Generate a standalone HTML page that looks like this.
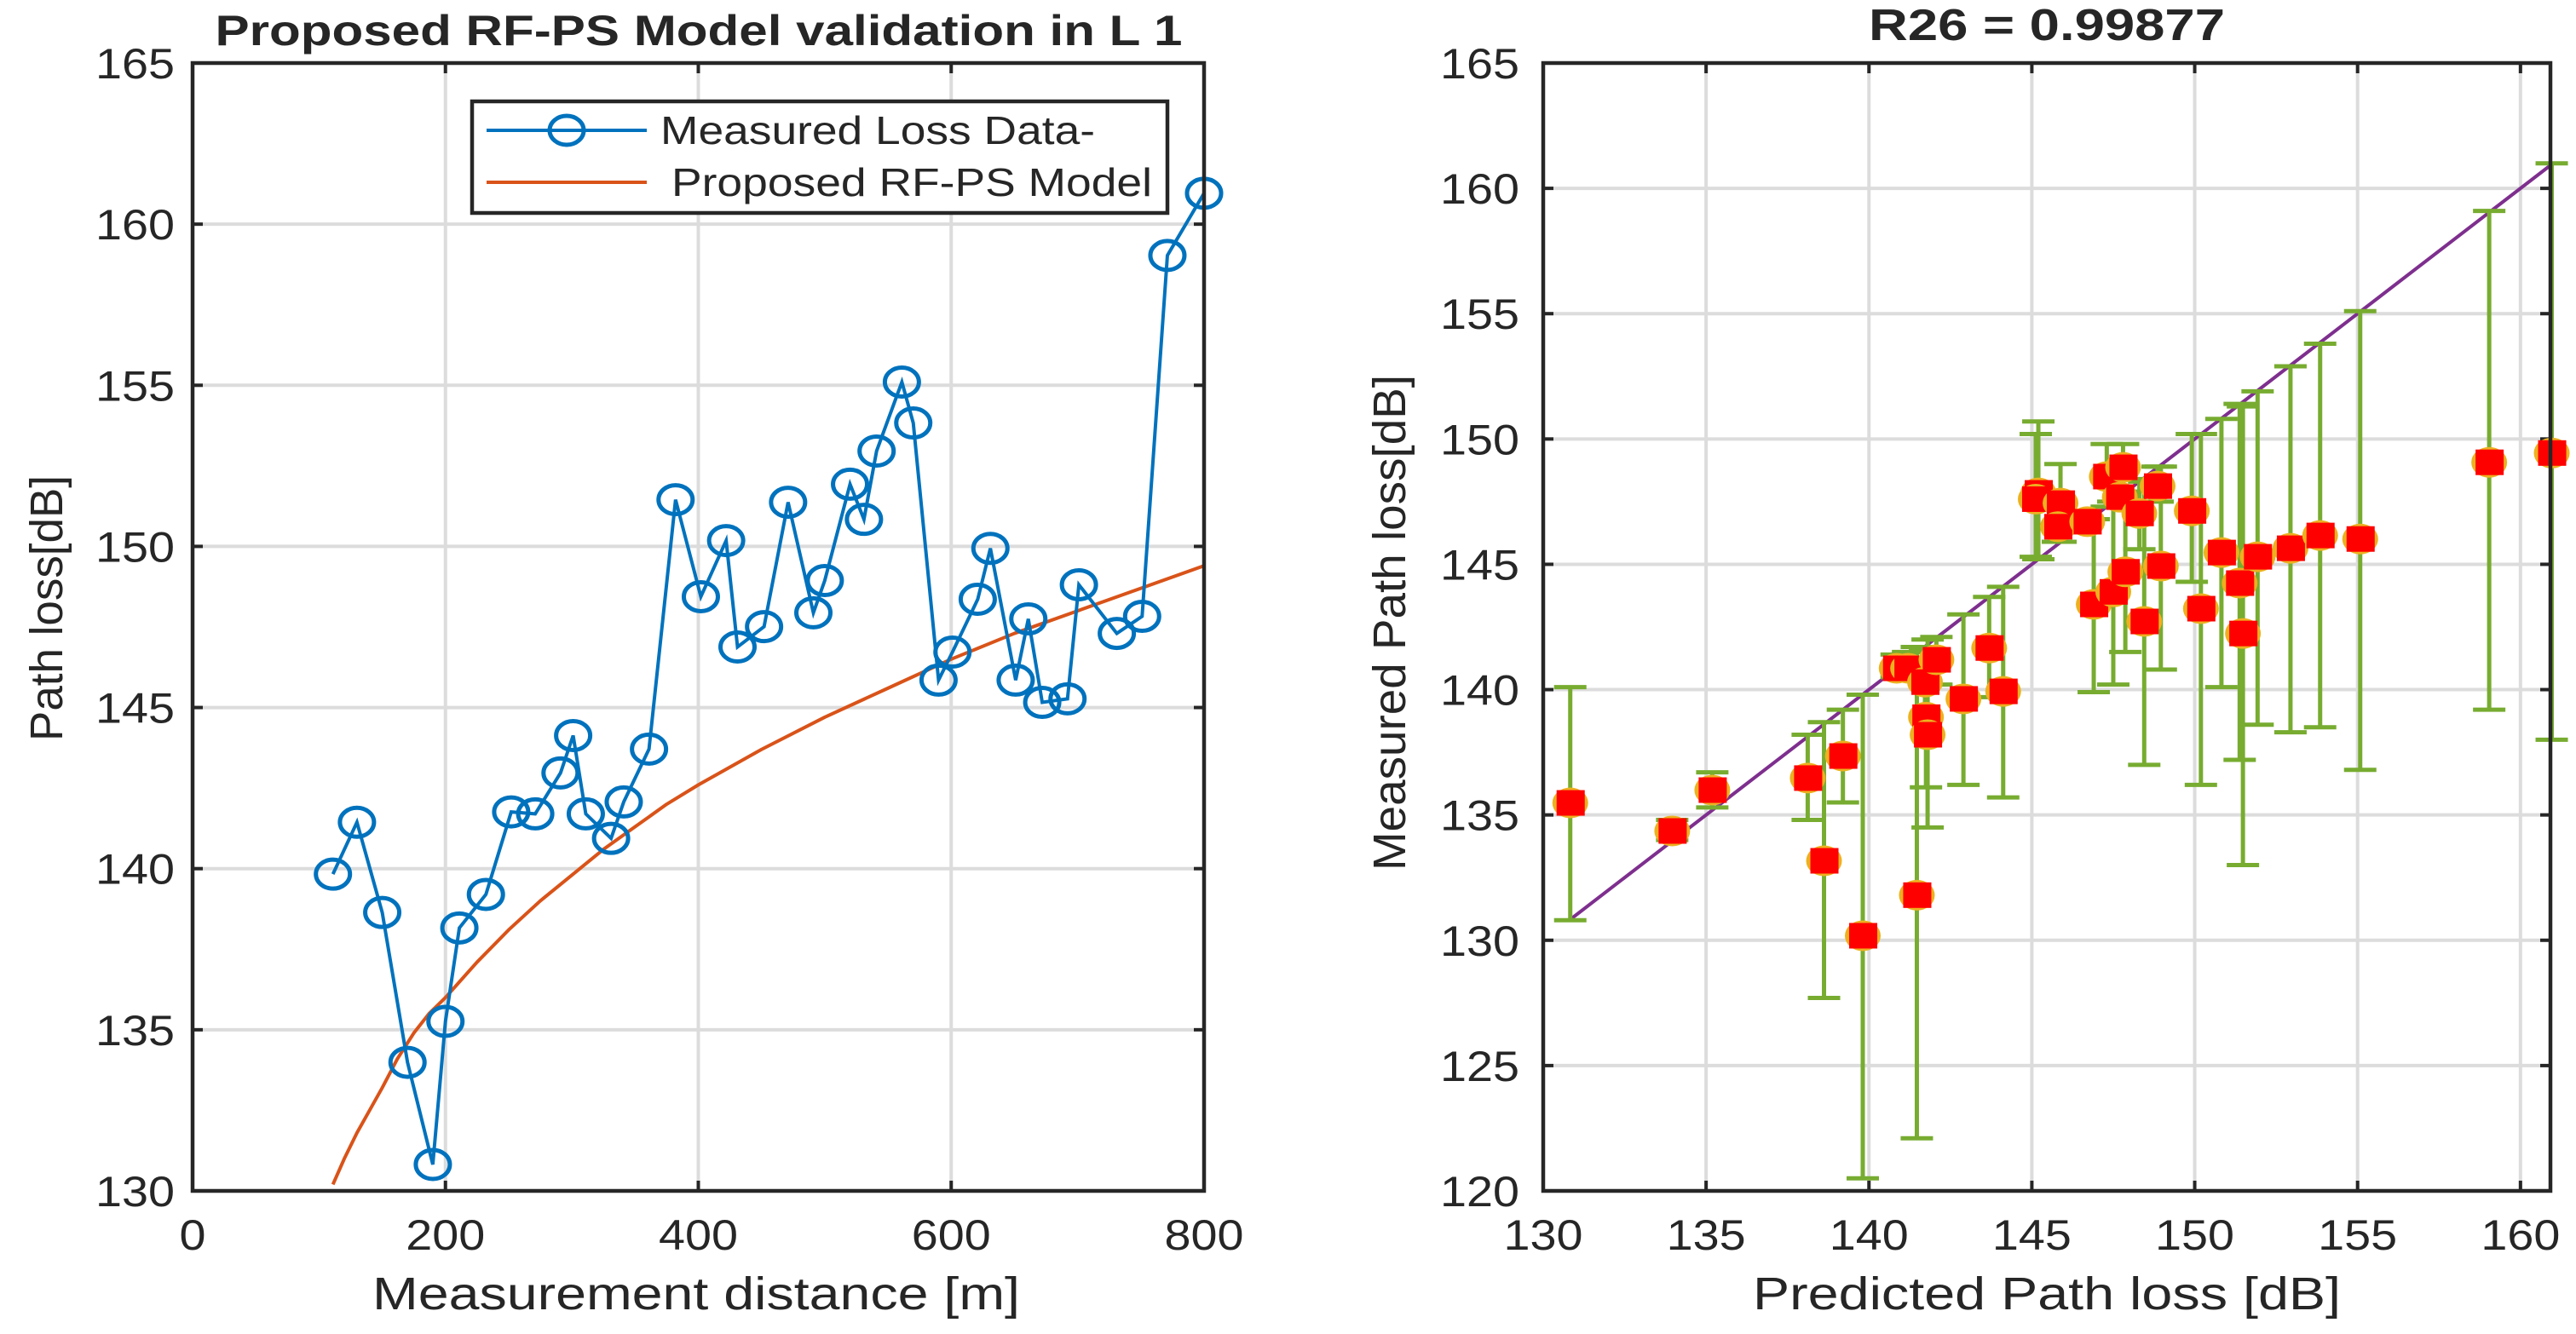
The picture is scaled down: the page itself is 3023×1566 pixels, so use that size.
<!DOCTYPE html>
<html><head><meta charset="utf-8"><style>
html,body{margin:0;padding:0;background:#fff}
svg{display:block}
text{font-family:"Liberation Sans",Arial,sans-serif;fill:#262626}
</style></head><body>
<svg id="fig" width="3023" height="1566" viewBox="0 0 3023 1566" xmlns="http://www.w3.org/2000/svg">
<g id="left"></g>
<g id="right"></g>
</svg>
<script>
// ---- Left chart data ----
const measDist = [111,130,150,170,190,200,211,232,252,271,291,301,311,331,341,361,382,402,422,431,452,471,491,500,520,531,541,561,570,590,601,621,631,651,661,672,692,701,731,751,771,800];
const measLoss = [139.83,141.44,138.64,133.99,130.82,135.26,138.16,139.2,141.76,141.7,142.97,144.13,141.7,140.94,142.07,143.71,151.45,148.44,150.18,146.88,147.51,151.37,147.94,148.94,151.93,150.84,152.96,155.1,153.83,145.85,146.72,148.36,149.94,145.85,147.75,145.16,145.27,148.81,147.3,147.83,159.03,160.96];
const modelDist = [111,120,130,140,150,162,175,187,200,225,250,275,300,325,350,375,400,450,500,550,600,650,700,750,800];
const modelLoss = [130.2,131.0,131.8,132.5,133.2,134.1,134.9,135.5,136.0,137.1,138.1,139.0,139.8,140.6,141.3,142.0,142.6,143.7,144.7,145.6,146.5,147.3,148.0,148.7,149.4];
const leftXTicks = [0,200,400,600,800];
const leftYTicks = [130,135,140,145,150,155,160,165];
// ---- Right chart data ----
const predLoss = [130.83,133.96,135.19,138.12,138.62,139.2,139.81,140.85,141.2,141.47,141.72,141.75,141.8,142.07,142.9,143.69,144.12,145.2,145.12,145.88,145.8,146.7,146.9,147.3,147.5,147.8,147.7,147.87,148.3,148.45,148.86,148.96,149.91,150.19,150.82,151.38,151.48,151.93,152.94,153.85,155.08,159.04,160.96];
const measured = [135.48,134.36,135.99,136.47,133.17,137.35,130.18,140.85,140.85,131.8,140.3,138.9,138.2,141.19,139.63,141.66,139.93,147.85,147.6,147.44,146.5,146.7,143.4,148.5,143.9,148.87,147.68,144.7,147.03,142.72,148.12,144.93,147.13,143.23,145.47,144.25,142.24,145.3,145.64,146.15,146.01,149.07,149.44];
const errHigh = [140.1,134.8,136.7,138.2,138.7,139.2,139.8,141.4,141.5,141.7,141.6,141.5,142.0,142.1,143.0,143.7,144.1,150.7,150.2,149.0,147.2,146.9,146.8,149.8,147.5,149.8,147.9,147.8,148.4,148.3,148.9,148.9,150.2,150.2,150.8,151.4,151.3,151.9,152.9,153.8,155.1,159.1,161.0];
const errLow = [130.8,134.0,135.3,134.8,127.7,135.5,120.5,140.5,140.6,122.1,139.0,136.1,134.5,140.2,136.2,139.7,135.7,145.2,145.3,145.9,145.9,146.6,139.9,147.3,140.2,147.9,147.4,141.5,145.6,137.0,147.5,140.8,144.3,136.2,140.1,137.2,133.0,138.6,138.3,138.5,136.8,139.2,138.0];
const rightXTicks = [130,135,140,145,150,155,160];
const rightYTicks = [120,125,130,135,140,145,150,155,160,165];
const fitLine = [130.83,160.96];

const NS='http://www.w3.org/2000/svg';
function mk(parent,tag,attrs,txt){const e=document.createElementNS(NS,tag);for(const k in attrs)e.setAttribute(k,attrs[k]);if(txt!==undefined)e.textContent=txt;parent.appendChild(e);return e;}
const DW=31; // stretched digit width
function tick(parent,x,y,t,anchor){
  const s=String(t);
  return mk(parent,'text',{x:x,y:y,'text-anchor':anchor,'font-size':50,textLength:s.length*DW,lengthAdjust:'spacingAndGlyphs'},s);
}

// Left axes
const L={x0:226,x1:1413,y0:74,y1:1398,xmin:0,xmax:800,ymin:130,ymax:165};
const lx=d=>L.x0+(d-L.xmin)/(L.xmax-L.xmin)*(L.x1-L.x0);
const ly=v=>L.y1-(v-L.ymin)/(L.ymax-L.ymin)*(L.y1-L.y0);
const gl=document.getElementById('left');
leftXTicks.forEach(t=>{
  const g=mk(gl,'line',{x1:lx(t),x2:lx(t),y1:L.y0,y2:L.y1,stroke:'#dcdcdc','stroke-width':4});
  
  const lb=tick(gl,lx(t),1467,t,'middle');
  
});
leftYTicks.forEach(t=>{
  const g=mk(gl,'line',{x1:L.x0,x2:L.x1,y1:ly(t),y2:ly(t),stroke:'#dcdcdc','stroke-width':4});
  
  const lb=tick(gl,205,ly(t)+18,t,'end');
  
  mk(gl,'line',{x1:L.x0,x2:L.x0+12,y1:ly(t),y2:ly(t),stroke:'#262626','stroke-width':4});
  mk(gl,'line',{x1:L.x1,x2:L.x1-12,y1:ly(t),y2:ly(t),stroke:'#262626','stroke-width':4});
});
leftXTicks.forEach(t=>{
  mk(gl,'line',{x1:lx(t),x2:lx(t),y1:L.y1,y2:L.y1-12,stroke:'#262626','stroke-width':4});
  mk(gl,'line',{x1:lx(t),x2:lx(t),y1:L.y0,y2:L.y0+12,stroke:'#262626','stroke-width':4});
});
const mp=modelDist.map((d,i)=>lx(d)+','+ly(modelLoss[i])).join(' ');
const mc=mk(gl,'polyline',{points:mp,fill:'none',stroke:'#D95319','stroke-width':4,'stroke-linejoin':'round'});

const pp=measDist.map((d,i)=>lx(d)+','+ly(measLoss[i])).join(' ');
const ml=mk(gl,'polyline',{points:pp,fill:'none',stroke:'#0072BD','stroke-width':4});

measDist.forEach((d,i)=>{
  const c=mk(gl,'ellipse',{cx:lx(d),cy:ly(measLoss[i]),rx:20,ry:17,fill:'none',stroke:'#0072BD','stroke-width':5});
  
});
const la=mk(gl,'rect',{x:L.x0,y:L.y0,width:L.x1-L.x0,height:L.y1-L.y0,fill:'none',stroke:'#262626','stroke-width':4.5});

const lg=mk(gl,'g',{});

mk(lg,'rect',{x:554,y:119,width:816,height:131,fill:'#fff',stroke:'#262626','stroke-width':4.5});
mk(lg,'line',{x1:571,x2:759,y1:153,y2:153,stroke:'#0072BD','stroke-width':4});
mk(lg,'ellipse',{cx:665,cy:153,rx:20,ry:17,fill:'none',stroke:'#0072BD','stroke-width':5});
const t1=mk(lg,'text',{x:775,y:169,'font-size':46,fill:'#000',textLength:510,lengthAdjust:'spacingAndGlyphs'},'Measured Loss Data-');

mk(lg,'line',{x1:571,x2:759,y1:214,y2:214,stroke:'#D95319','stroke-width':4});
const t2=mk(lg,'text',{x:788,y:230,'font-size':46,fill:'#000',textLength:564,lengthAdjust:'spacingAndGlyphs'},'Proposed RF-PS Model');

const tl=mk(gl,'text',{x:820,y:53,'text-anchor':'middle','font-size':50,'font-weight':'bold',fill:'#000',textLength:1135,lengthAdjust:'spacingAndGlyphs'},'Proposed RF-PS Model validation in L 1');

const xl=mk(gl,'text',{x:817,y:1537,'text-anchor':'middle','font-size':54,textLength:760,lengthAdjust:'spacingAndGlyphs'},'Measurement distance [m]');

const yl=mk(gl,'text',{x:0,y:0,'text-anchor':'middle','font-size':54,textLength:312,lengthAdjust:'spacingAndGlyphs',transform:'translate(73,714) rotate(-90)'},'Path loss[dB]');


// Right axes
const R={x0:1811,x1:2993,y0:74,y1:1398,xmin:130,xmax:160.92,ymin:120,ymax:165};
const rx=v=>R.x0+(v-R.xmin)/(R.xmax-R.xmin)*(R.x1-R.x0);
const ry=v=>R.y1-(v-R.ymin)/(R.ymax-R.ymin)*(R.y1-R.y0);
const gr=document.getElementById('right');
rightXTicks.forEach(t=>{
  const g=mk(gr,'line',{x1:rx(t),x2:rx(t),y1:R.y0,y2:R.y1,stroke:'#dcdcdc','stroke-width':4});
  
  const lb=tick(gr,rx(t),1467,t,'middle');
  
  mk(gr,'line',{x1:rx(t),x2:rx(t),y1:R.y1,y2:R.y1-12,stroke:'#262626','stroke-width':4});
  mk(gr,'line',{x1:rx(t),x2:rx(t),y1:R.y0,y2:R.y0+12,stroke:'#262626','stroke-width':4});
});
rightYTicks.forEach(t=>{
  const g=mk(gr,'line',{x1:R.x0,x2:R.x1,y1:ry(t),y2:ry(t),stroke:'#dcdcdc','stroke-width':4});
  
  const lb=tick(gr,1783,ry(t)+18,t,'end');
  
  mk(gr,'line',{x1:R.x0,x2:R.x0+12,y1:ry(t),y2:ry(t),stroke:'#262626','stroke-width':4});
  mk(gr,'line',{x1:R.x1,x2:R.x1-12,y1:ry(t),y2:ry(t),stroke:'#262626','stroke-width':4});
});
const fl=mk(gr,'line',{x1:rx(fitLine[0]),y1:ry(fitLine[0]),x2:rx(fitLine[1]),y2:ry(fitLine[1]),stroke:'#7E2F8E','stroke-width':4});

predLoss.forEach((p,i)=>{
  const g=mk(gr,'g',{stroke:'#77AC30','stroke-width':5});
  
  const X=rx(p);
  mk(g,'line',{x1:X,x2:X,y1:ry(errHigh[i]),y2:ry(errLow[i])});
  mk(g,'line',{x1:X-19,x2:X+19,y1:ry(errHigh[i]),y2:ry(errHigh[i])});
  mk(g,'line',{x1:X-19,x2:X+19,y1:ry(errLow[i]),y2:ry(errLow[i])});
});
predLoss.forEach((p,i)=>{
  const g=mk(gr,'g',{});
  
  const X=rx(p),Y=ry(measured[i]);
  mk(g,'ellipse',{cx:X,cy:Y,rx:21,ry:18,fill:'#EDB120'});
  mk(g,'rect',{x:X-16,y:Y-15,width:33,height:30,fill:'#FF0000'});
});
const ra=mk(gr,'rect',{x:R.x0,y:R.y0,width:R.x1-R.x0,height:R.y1-R.y0,fill:'none',stroke:'#262626','stroke-width':4.5});

const rt=mk(gr,'text',{x:2402,y:47,'text-anchor':'middle','font-size':52,'font-weight':'bold',fill:'#000',textLength:418,lengthAdjust:'spacingAndGlyphs'},'R26 = 0.99877');

const rxl=mk(gr,'text',{x:2402,y:1537,'text-anchor':'middle','font-size':54,textLength:690,lengthAdjust:'spacingAndGlyphs'},'Predicted Path loss [dB]');

const ryl=mk(gr,'text',{x:0,y:0,'text-anchor':'middle','font-size':54,textLength:582,lengthAdjust:'spacingAndGlyphs',transform:'translate(1649,731) rotate(-90)'},'Measured Path loss[dB]');

</script>
</body></html>
